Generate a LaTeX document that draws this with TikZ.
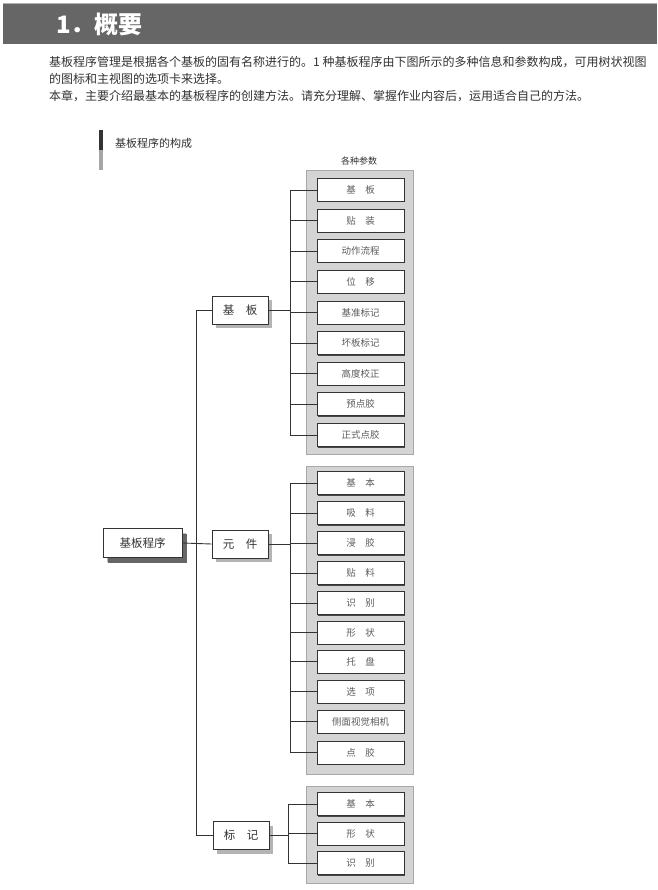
\documentclass[tikz,border=0pt]{standalone}
\usepackage{fontspec}
\setmainfont{Noto Sans CJK SC}
\usetikzlibrary{shadows}
\definecolor{hdr}{HTML}{666666}
\definecolor{ink}{HTML}{333333}
\definecolor{panelfill}{HTML}{D4D4D4}
\definecolor{panelline}{HTML}{A8A8A8}
\definecolor{shade}{HTML}{B4B4B4}
\begin{document}
\begin{tikzpicture}[x=1pt,y=-1pt,
  txt/.style={anchor=west,inner sep=0pt,text=ink,font=\fontsize{12}{12}\selectfont},
  panel/.style={fill=panelfill,draw=panelline,line width=1pt},
  parbox/.style={draw=ink,fill=white,line width=0.9pt,minimum width=87pt,minimum height=23pt,inner sep=0pt,
     text=ink!80,font=\fontsize{9.5}{9.5}\selectfont,
     drop shadow={shadow xshift=1pt,shadow yshift=-1pt,fill=ink!90,opacity=1}},
  topbox/.style={draw=ink,fill=white,line width=0.9pt,minimum width=56pt,minimum height=28pt,inner sep=0pt,
     text=ink,font=\fontsize{11.5}{11.5}\selectfont,
     drop shadow={shadow xshift=4pt,shadow yshift=-4pt,fill=shade,opacity=1}},
  conn/.style={draw=ink,line width=0.9pt}
]
\useasboundingbox (0,0) rectangle (657,890);
% header
\fill[white] (0,0) rectangle (657,890);
\fill[hdr] (3,3) rectangle (657,44);
\draw[gray!60,line width=1pt] (3,3.5) -- (657,3.5);
\node[anchor=west,inner sep=0pt,text=white,font=\fontsize{24}{24}\selectfont\bfseries] (title) at (56,24) {1．概要};
% paragraph
\node[txt] (l1) at (49,62) {基板程序管理是根据各个基板的固有名称进行的。1 种基板程序由下图所示的多种信息和参数构成，可用树状视图};
\node[txt] (l2) at (49,79) {的图标和主视图的选项卡来选择。};
\node[txt] (l3) at (49,96) {本章，主要介绍最基本的基板程序的创建方法。请充分理解、掌握作业内容后，运用适合自己的方法。};
% section label
\fill[ink] (99,130) rectangle (102.5,150);
\fill[gray!70] (99,150) rectangle (102.5,170);
\node[anchor=west,inner sep=0pt,text=ink,font=\fontsize{11}{11}\selectfont] (sec) at (115,143) {基板程序的构成};
\node[inner sep=0pt,text=ink,font=\fontsize{9}{9}\selectfont] (cap) at (359,161) {各种参数};
% panels
\draw[panel] (306,171) rectangle (413,454);
\draw[panel] (306,466) rectangle (413,774);
\draw[panel] (306,786) rectangle (413,883);
% parameter boxes, group 1
\node[parbox] (a1) at (360.5,190) {基　板};
\node[parbox] (a2) at (360.5,220.5) {贴　装};
\node[parbox] (a3) at (360.5,251) {动作流程};
\node[parbox] (a4) at (360.5,281.5) {位　移};
\node[parbox] (a5) at (360.5,312.5) {基准标记};
\node[parbox] (a6) at (360.5,343) {坏板标记};
\node[parbox] (a7) at (360.5,373.5) {高度校正};
\node[parbox] (a8) at (360.5,404) {预点胶};
\node[parbox] (a9) at (360.5,435) {正式点胶};
% group 2
\node[parbox] (b1) at (360.5,483) {基　本};
\node[parbox] (b2) at (360.5,513) {吸　料};
\node[parbox] (b3) at (360.5,543) {浸　胶};
\node[parbox] (b4) at (360.5,573) {贴　料};
\node[parbox] (b5) at (360.5,603) {识　别};
\node[parbox] (b6) at (360.5,632.5) {形　状};
\node[parbox] (b7) at (360.5,661.5) {托　盘};
\node[parbox] (b8) at (360.5,691.5) {选　项};
\node[parbox] (b9) at (360.5,721.5) {侧面视觉相机};
\node[parbox] (b10) at (360.5,752.5) {点　胶};
% group 3
\node[parbox] (c1) at (360.5,804) {基　本};
\node[parbox] (c2) at (360.5,833.5) {形　状};
\node[parbox] (c3) at (360.5,863) {识　别};
% top-level boxes
\node[topbox] (kb) at (240,310) {基　板};
\node[topbox] (yj) at (240,544) {元　件};
\node[topbox] (bj) at (241,835.5) {标　记};
\node[topbox,minimum width=79pt,minimum height=29pt,
  drop shadow={shadow xshift=5pt,shadow yshift=-5pt,fill=ink!75,opacity=1}] (root) at (142.5,543) {基板程序};
% junction columns
\coordinate (ja) at (290,0);
\coordinate (jc) at (288,0);
\coordinate (mx) at (196,0);
% group 1 connectors
\draw[conn] (a1.west -| ja) -- (a9.west -| ja);
\foreach \n in {a1,a2,a3,a4,a5,a6,a7,a8,a9} \draw[conn] (\n.west -| ja) -- (\n.west);
\draw[conn] (kb.east) -- (kb.east -| ja);
% group 2 connectors
\draw[conn] (b1.west -| ja) -- (b10.west -| ja);
\foreach \n in {b1,b2,b3,b4,b5,b6,b7,b8,b9,b10} \draw[conn] (\n.west -| ja) -- (\n.west);
\draw[conn] (yj.east) -- (yj.east -| ja);
% group 3 connectors
\draw[conn] (c1.west -| jc) -- (c3.west -| jc);
\foreach \n in {c1,c2,c3} \draw[conn] (\n.west -| jc) -- (\n.west);
\draw[conn] (bj.east) -- (bj.east -| jc);
% main tree
\draw[conn] (kb.west) -- (kb.west -| mx) -- (bj.west -| mx) -- (bj.west);
\draw[conn] (root.east) -- (yj.west);
\end{tikzpicture}
\end{document}
